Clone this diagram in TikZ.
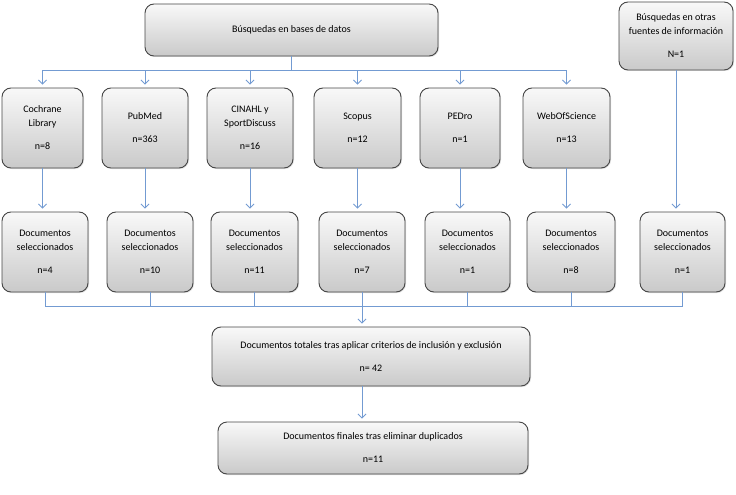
\documentclass[tikz,border=0pt]{standalone}
\usepackage{fontspec}
\setmainfont{Carlito}
\usetikzlibrary{arrows.meta, positioning, shadows}

\definecolor{boxline}{RGB}{70,70,70}
\definecolor{flowblue}{RGB}{115,155,210}

\begin{document}
\begin{tikzpicture}[
  x=1pt, y=-1pt,
  every node/.style={font=\fontsize{10}{14}\selectfont},
  box/.style={draw=boxline, line width=0.9pt, rounded corners=9pt,
              top color=gray!5, bottom color=gray!42, align=center, inner sep=2pt,
              drop shadow={opacity=0.25, shadow xshift=1pt, shadow yshift=-1pt}},
  link/.style={draw=flowblue, line width=0.8pt},
  arr/.style={link, -{Straight Barb[length=4pt, width=8pt]}, shorten >=3pt},
]
  \useasboundingbox (0,0) rectangle (736,495);

  % Sources
  \node[box, minimum width=293pt, minimum height=52pt] (bases) at (291.5,30)
       {Búsquedas en bases de datos};
  \node[box, minimum width=114pt, minimum height=68pt] (otras) at (676,36)
       {Búsquedas en otras\\fuentes de información\\[9pt]N=1};

  % Databases: row 1
  \foreach \n/\x/\w/\txt in {
      1/42.5/81/{Cochrane\\Library\\[9pt]n=8},
      2/145/86/{PubMed\\[9pt]n=363},
      3/250/86/{CINAHL y\\SportDiscuss\\[9pt]n=16},
      4/357.5/87/{Scopus\\[9pt]n=12},
      5/460/80/{PEDro\\[9pt]n=1},
      6/566.5/87/{WebOfScience\\[9pt]n=13}} {
    \node[box, minimum width=\w pt, minimum height=80pt] (db\n) at (\x,128) {\txt};
  }

  % Selected documents: row 2
  \foreach \n/\x/\w/\k in {1/45/86/4, 2/150/86/10, 3/254.5/87/11, 4/362/86/7,
                           5/467.5/85/1, 6/571/88/8, 7/682.5/85/1} {
    \node[box, minimum width=\w pt, minimum height=80pt] (sel\n) at (\x,252)
         {Documentos\\seleccionados\\[9pt]n=\k};
  }

  % Totals
  \node[box, minimum width=318pt, minimum height=59pt] (total) at (371,356.5)
       {Documentos totales tras aplicar criterios de inclusión y exclusión\\[9pt]n= 42};
  \node[box, minimum width=310pt, minimum height=52pt] (final) at (373,448)
       {Documentos finales tras eliminar duplicados\\[9pt]n=11};

  % Upper bus
  \path (bases.south) ++(0,14) coordinate (split);
  \draw[link] (bases.south) -- (split);
  \foreach \n in {1,...,6} {
    \draw[arr] (split) -| (db\n.north);
    \draw[arr] (db\n.south) -- (db\n.south |- sel\n.north);
  }
  \draw[arr] (otras.south) -- (otras.south |- sel7.north);

  % Lower bus
  \path (sel4.south) ++(0,14) coordinate (join);
  \foreach \n in {1,...,7} {
    \draw[link] (sel\n.south) |- (join);
  }
  \draw[arr] (join) -- (join |- total.north);
  \draw[arr] (join |- total.south) -- (join |- final.north);
\end{tikzpicture}
\end{document}
